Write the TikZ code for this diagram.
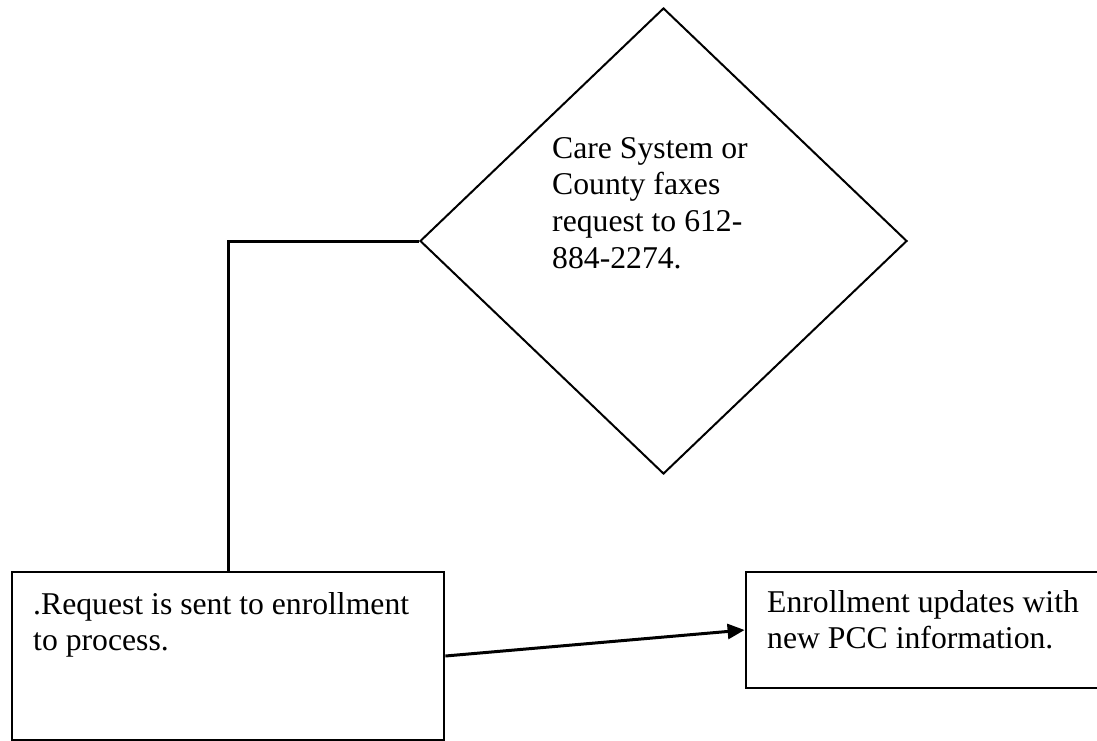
\documentclass[tikz,border=0pt]{standalone}
\usepackage{fontspec}
\setmainfont{Liberation Serif}
\usetikzlibrary{shapes.geometric,arrows.meta}

\begin{document}
\begin{tikzpicture}[x=1pt, y=-1pt,
        box/.style={draw, rectangle, line width=2.8pt, inner sep=0pt},
        txt/.style={anchor=north west, inner sep=0pt, align=left,
            font=\fontsize{31.7}{36.7}\selectfont},
        link/.style={line width=3pt}]
        \clip (0,0) rectangle (1097,741);

        % diamond
        \node[draw, diamond, line width=2pt, inner sep=0pt,
            minimum width=487pt, minimum height=466pt] (fax) at (663.5,241) {};
        \node[txt] (faxtext) at (552,137) {Care System or\\County faxes\\request to 612-\\884-2274.};

        % box 1
        \node[box, minimum width=432pt, minimum height=168pt] (req) at (228,656) {};
        \node[txt] (reqtext) at (33,592) {.Request is sent to enrollment\\to process.};

        % box 2
        \node[box, minimum width=357pt, minimum height=116pt] (upd) at (924.5,630) {};
        \node[txt] (updtext) at (767,590) {Enrollment updates with\\new PCC information.};

        % lines
        \draw[link] (fax.west) -| (req.north);
        \draw[link, -{Triangle[length=17pt, width=15pt]}] (req.east) -- (upd.west);
\end{tikzpicture}
\end{document}
